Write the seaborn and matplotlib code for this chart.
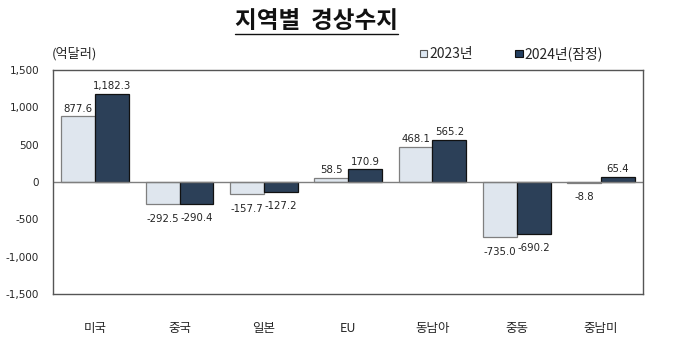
import pandas as pd
import matplotlib.pyplot as plt
import seaborn as sns
from matplotlib.lines import Line2D
from matplotlib.patches import Rectangle

# 지역별 경상수지 (억달러)
regions = ["미국", "중국", "일본", "EU", "동남아", "중동", "중남미"]
years = ["2023년", "2024년(잠정)"]
val_2023 = [877.6, -292.5, -157.7, 58.5, 468.1, -735.0, -8.8]
val_2024 = [1182.3, -290.4, -127.2, 170.9, 565.2, -690.2, 65.4]

df = pd.DataFrame({
    "region": regions * 2,
    "year": [years[0]] * len(regions) + [years[1]] * len(regions),
    "value": val_2023 + val_2024,
})

sns.set_theme(style="white")
# 숫자는 DejaVu, 한글은 Noto CJK 로 넘어감
plt.rcParams["font.family"] = ["DejaVu Sans", "Noto Sans CJK KR"]
kr = ["Noto Sans CJK KR", "DejaVu Sans"]

fig = plt.figure(figsize=(6.8, 3.57), dpi=100)
ax = fig.add_axes([0.078, 0.176, 0.868, 0.628])

colors = ["#dce6f1", "#243f60"]
edges = ["#7f7f7f", "#111111"]
sns.barplot(data=df, x="region", y="value", hue="year", palette=colors,
            width=0.8, ax=ax, legend=False)

for cont, ec in zip(ax.containers, edges):
    for bar in cont:
        bar.set_edgecolor(ec)
        bar.set_linewidth(0.9)
    vals = cont.datavalues
    pos = [f"{v:,.1f}" if v >= 0 else "" for v in vals]
    neg = [f"{v:,.1f}" if v < 0 else "" for v in vals]
    ax.bar_label(cont, labels=pos, padding=2, fontsize=7.3, color="#222222")
    ax.bar_label(cont, labels=neg, padding=7, fontsize=7.3, color="#222222")

ax.axhline(0, color="#7f7f7f", lw=1)
ax.set_ylim(-1500, 1500)
ax.set_yticks(range(-1500, 1501, 500))
ax.set_yticklabels([f"{v:,}" for v in range(-1500, 1501, 500)])
ax.set_xlim(-0.5, len(regions) - 0.5)
ax.tick_params(axis="y", length=0, labelsize=7.5, pad=10)
ax.tick_params(axis="x", length=0, pad=20)
for t in ax.get_xticklabels():
    t.set_fontfamily(kr)
    t.set_fontsize(9)
ax.set_xlabel("")
ax.set_ylabel("")
for s in ax.spines.values():
    s.set_color("#555555")
    s.set_linewidth(1)

# 제목 + 밑줄
fig.text(0.466, 0.94, "지역별  경상수지", ha="center", va="center",
         fontsize=17, fontweight="semibold", color="#111111", family=kr)
fig.add_artist(Line2D([0.346, 0.585], [0.905, 0.905], color="#111111", lw=1))

fig.text(0.076, 0.85, "(억달러)", ha="left", va="center", fontsize=9.5,
         family=kr)

# 범례
fig.add_artist(Rectangle((0.618, 0.841), 0.0105, 0.02, transform=fig.transFigure,
                         facecolor=colors[0], edgecolor="#555555", lw=0.8))
fig.text(0.632, 0.85, "2023년", ha="left", va="center", fontsize=10,
         family=kr)
fig.add_artist(Rectangle((0.758, 0.841), 0.0105, 0.02, transform=fig.transFigure,
                         facecolor=colors[1], edgecolor="#111111", lw=0.8))
fig.text(0.771, 0.85, "2024년(잠정)", ha="left", va="center", fontsize=10,
         family=kr)

fig.savefig("out.png", dpi=100)
